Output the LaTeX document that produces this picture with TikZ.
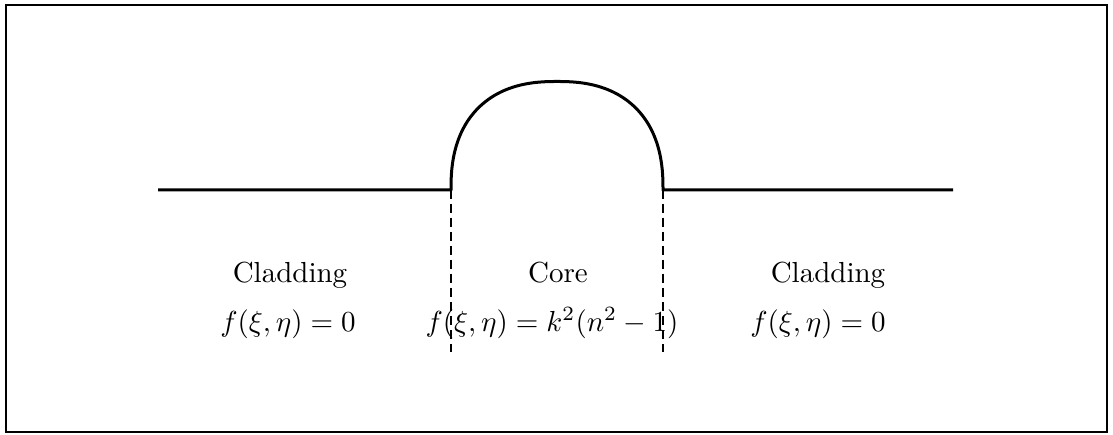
\documentclass[tikz,border=0pt]{standalone}
\usepackage{amsmath}
\usetikzlibrary{positioning}

\tikzset{
	profile/.style={line width=3pt, line join=round},
	bound/.style={line width=1.2pt, dash pattern=on 9pt off 5pt},
	lbl/.style={anchor=base, inner sep=0pt, scale=2.9}
}

\begin{document}
\begin{tikzpicture}[x=1pt,y=1pt]
	\useasboundingbox (0,0) rectangle (1113,434);
	\draw[line width=2pt] (5.5,2) rectangle (1107,429);
	
	% index profile
	\coordinate (L) at (158,244);
	\coordinate (A) at (451,244);
	\coordinate (B) at (663,244);
	\coordinate (R) at (953,244);
	\draw[profile] (L) -- (A)
		-- plot[smooth, domain=179.9:0.1, samples=120, variable=\t]
		({557+106*sign(cos(\t))*abs(cos(\t))^(0.833)}, {244+108.5*abs(sin(\t))^(0.833)})
		-- (B) -- (R);
	
	% core boundaries
	\coordinate (A0) at (451,82);
	\coordinate (B0) at (663,82);
	\draw[bound] (A) -- (A0);
	\draw[bound] (B) -- (B0);
	
	% region labels
	\node[lbl] (cl1) at (290,152) {Cladding};
	\node[lbl] (co)  at (558,152) {Core};
	\node[lbl] (cl2) at (828,152) {Cladding};
	\node[lbl] (f1) at (288,103) {$f(\xi,\eta)=0$};
	\node[lbl] (f2) at (552,103) {$f(\xi,\eta)=k^2(n^2-1)$};
	\node[lbl] (f3) at (818,103) {$f(\xi,\eta)=0$};
\end{tikzpicture}
\end{document}
